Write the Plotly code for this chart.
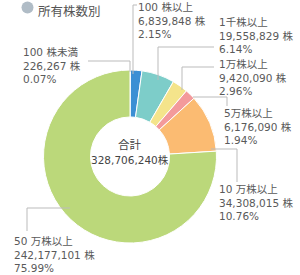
import plotly.graph_objects as go

W, H = 300, 275

categories = ["100 株未満", "100 株以上", "1千株以上", "1万株以上", "5万株以上", "10 万株以上", "50 万株以上"]
values = [226267, 6839848, 19558829, 9420090, 6176090, 34308015, 242177101]
value_labels = ["226,267 株", "6,839,848 株", "19,558,829 株", "9,420,090 株", "6,176,090 株", "34,308,015 株", "242,177,101 株"]
pct_labels = ["0.07%", "2.15%", "6.14%", "2.96%", "1.94%", "10.76%", "75.99%"]
colors = ["#c9c9c9", "#3b8fd4", "#7dcdc9", "#f4e48b", "#f39a9b", "#fbbb72", "#bbd87a"]
title_text = "所有株数別"
center_title = "合計"
center_value = "328,706,240株"

FONT = "DejaVu Sans, Noto Sans CJK JP, sans-serif"
TXT = "#5a5a5a"

def px(x):
    return x / W

def py(y):
    return 1 - y / H

# donut center (130,156.5), outer radius 86.5
cx, cy, R = 130, 156.5, 86.5
fig = go.Figure(go.Pie(
    labels=categories, values=values, sort=False, direction="clockwise",
    rotation=0, hole=0.457, textinfo="none", hoverinfo="label+value+percent",
    marker=dict(colors=colors, line=dict(color="white", width=1)),
    domain=dict(x=[px(cx - R), px(cx + R)], y=[py(cy + R), py(cy - R)]),
    showlegend=False,
))

# label block positions (left x, top y) and leader line paths
label_pos = [(22, 45), (137, 0), (218, 15), (218, 57), (223, 106), (218, 182), (13, 234)]
leaders = [
    [(88, 61), (130, 61), (130, 72)],
    [(137, 5), (133, 5), (133, 74)],
    [(214, 47), (158, 47), (158, 80)],
    [(214, 67), (182, 67), (182, 90)],
    [(193, 97), (227, 97), (227, 106)],
    [(211, 149), (237, 149), (237, 182)],
    [(70, 208), (27, 208), (27, 231)],
]

annotations = []
shapes = []
for i, (x0, y0) in enumerate(label_pos):
    annotations.append(dict(
        x=px(x0), y=py(y0), xref="paper", yref="paper",
        xanchor="left", yanchor="top", align="left", borderpad=0,
        text="<br>".join([categories[i], value_labels[i], pct_labels[i]]),
        showarrow=False, font=dict(family=FONT, size=10.5, color=TXT),
    ))
    pts = leaders[i]
    path = "M " + " L ".join(f"{px(a)},{py(b)}" for a, b in pts)
    shapes.append(dict(type="path", path=path, xref="paper", yref="paper",
                       line=dict(color="#bbbbbb", width=1)))

annotations.append(dict(x=px(cx), y=py(145), xref="paper", yref="paper",
                        xanchor="center", yanchor="middle", text=center_title,
                        showarrow=False, font=dict(family=FONT, size=11.5, color="#444")))
annotations.append(dict(x=px(cx), y=py(160), xref="paper", yref="paper",
                        xanchor="center", yanchor="middle", text=center_value,
                        showarrow=False, font=dict(family=FONT, size=10.5, color="#444")))

# title with grey dot
shapes.append(dict(type="circle", xref="paper", yref="paper",
                   x0=px(21.5), x1=px(33.5), y0=py(13.5), y1=py(1.5),
                   fillcolor="#b0bcc6", line=dict(width=0)))
annotations.append(dict(x=px(37), y=py(0), xref="paper", yref="paper",
                        xanchor="left", yanchor="top", borderpad=0, text=title_text,
                        showarrow=False, font=dict(family="Noto Sans CJK JP", size=12.5, color="#555")))

fig.update_layout(
    width=W, height=H, margin=dict(l=0, r=0, t=0, b=0),
    paper_bgcolor="white", plot_bgcolor="white",
    annotations=annotations, shapes=shapes,
)

fig.write_html("out.html")
